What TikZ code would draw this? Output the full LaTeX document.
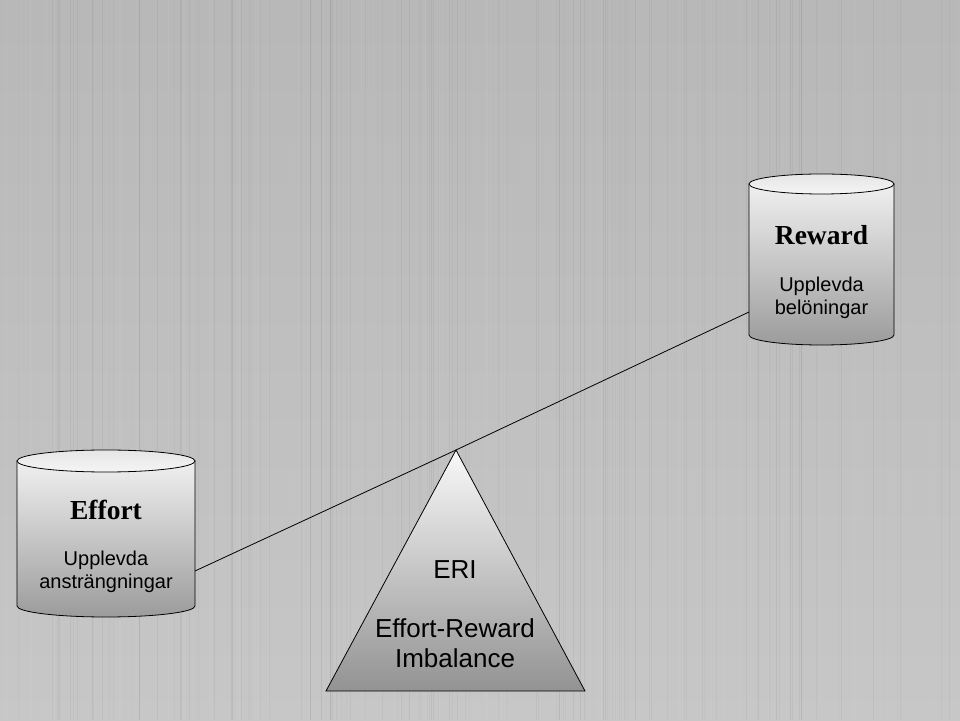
\documentclass[tikz,border=0pt]{standalone}
\usepackage{fontspec}
\setmainfont{Liberation Serif}
\setsansfont{Liberation Sans}
\usetikzlibrary{calc}
\begin{document}
\begin{tikzpicture}[x=1pt,y=1pt,
  outline/.style={draw=black,line width=0.8pt},
  body/.style={outline,top color=gray!12,bottom color=gray!78},
  lid/.style={outline,top color=gray!20,bottom color=gray!8},
  title/.style={font=\fontsize{27.5}{30}\selectfont\rmfamily\bfseries,text=black,inner sep=0pt},
  sub/.style={font=\fontsize{20}{23}\selectfont\sffamily,align=center,text=black,inner sep=0pt},
  tri/.style={font=\fontsize{26}{30}\selectfont\sffamily,align=center,text=black,inner sep=0pt}]
\useasboundingbox (0,0) rectangle (960,720);
% background
\shade[top color=black!28,middle color=black!14,bottom color=black!22] (0,0) rectangle (960,720);
\pgfmathsetseed{7}
\foreach \i in {1,...,220}{
  \pgfmathsetmacro{\xx}{rnd*960}
  \pgfmathsetmacro{\op}{0.015+rnd*0.035}
  \pgfmathsetmacro{\w}{0.3+rnd*0.9}
  \pgfmathparse{rnd>0.5?1:0}
  \ifnum\pgfmathresult=1
    \draw[white,opacity=\op,line width=\w] (\xx,0) -- (\xx,720);
  \else
    \draw[black,opacity=\op,line width=\w] (\xx,0) -- (\xx,720);
  \fi
}
% Reward cylinder
\path[body] (749,536) -- (749,385) arc[start angle=180,end angle=360,x radius=72.5,y radius=10] -- (894,536) -- cycle;
\path[lid] (821.5,536) ellipse[x radius=72.5,y radius=10];
\node[title] (rewardt) at (821.5,485) {Reward};
\node[sub] (rewards) at (821.5,422) {Upplevda\\belöningar};
% Effort cylinder
\path[body] (17,259) -- (17,114) arc[start angle=180,end angle=360,x radius=89,y radius=11] -- (195,259) -- cycle;
\path[lid] (106,259) ellipse[x radius=89,y radius=11];
\node[title] (effortt) at (106,210) {Effort};
\node[sub] (efforts) at (106,148) {Upplevda\\ansträngningar};
% Triangle
\coordinate (apex) at (456,270);
\path[outline,top color=gray!5,bottom color=gray!85] (apex) -- (585,29) -- (326,29) -- cycle;
\node[tri] (eri) at (455,150) {ERI};
\node[tri] (erifull) at (455,77) {Effort-Reward\\Imbalance};
% lever
\coordinate (effortend) at (195,149);
\coordinate (rewardend) at (749,408);
\draw[line width=0.8pt] (effortend) -- (apex) -- (rewardend);
\end{tikzpicture}
\end{document}
